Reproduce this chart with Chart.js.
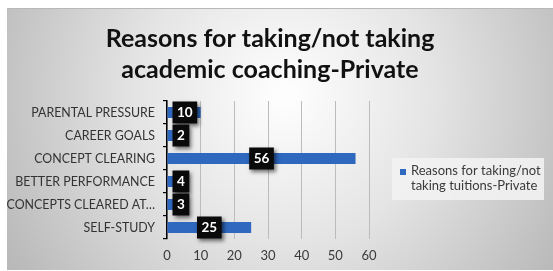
<!DOCTYPE html>
<html>
<head>
<meta charset="utf-8">
<script src="https://cdn.jsdelivr.net/npm/chart.js@4.4.1/dist/chart.umd.min.js"></script>
<style>
  html, body { margin: 0; padding: 0; background: #ffffff; }
  #wrap { position: absolute; left: 0; top: 0; width: 553px; height: 271px; }
</style>
</head>
<body>
<div id="wrap"><canvas id="c" width="553" height="271"></canvas></div>
<script>
// ---- data ----
const categories = ['PARENTAL PRESSURE', 'CAREER GOALS', 'CONCEPT CLEARING', 'BETTER PERFORMANCE', 'CONCEPTS CLEARED AT…', 'SELF-STUDY'];
const values = [10, 2, 56, 4, 3, 25];
const xTickValues = [0, 10, 20, 30, 40, 50, 60];
const titleLines = ['Reasons for taking/not taking', 'academic coaching-Private'];
const seriesName = 'Reasons for taking/not taking tuitions-Private';
const legendLines = ['Reasons for taking/not', 'taking tuitions-Private'];

const FONT = 'Lato, "Open Sans", sans-serif';
const BAR_COLOR = '#2e68bf';

const backgroundPlugin = {
  id: 'bgPanel',
  beforeDraw(chart) {
    const ctx = chart.ctx;
    ctx.save();
    const x0 = 7, y0 = 8, w = 546, h = 262;
    const g = ctx.createRadialGradient(285, 95, 10, 285, 95, 320);
    g.addColorStop(0, '#fdfdfd');
    g.addColorStop(0.45, '#e4e4e4');
    g.addColorStop(1, '#b9b9b9');
    ctx.fillStyle = g;
    ctx.fillRect(x0, y0, w, h);
    ctx.strokeStyle = '#b8b8b8';
    ctx.lineWidth = 1;
    ctx.beginPath();
    ctx.moveTo(x0, y0 + 0.5); ctx.lineTo(x0 + w, y0 + 0.5);
    ctx.stroke();
    ctx.restore();
  }
};

const titleLegendPlugin = {
  id: 'titleLegend',
  afterDraw(chart) {
    const ctx = chart.ctx;
    ctx.save();
    // title
    ctx.fillStyle = '#111111';
    ctx.font = 'bold 25px ' + FONT;
    ctx.textAlign = 'center';
    ctx.textBaseline = 'middle';
    ctx.fillText(titleLines[0], 270, 39);
    ctx.fillText(titleLines[1], 270, 70);
    // legend
    ctx.fillStyle = 'rgba(242,242,242,0.9)';
    ctx.fillRect(392, 158, 152, 42);
    ctx.fillStyle = chart.data.datasets[0].backgroundColor;
    ctx.fillRect(400, 169, 6, 6);
    ctx.fillStyle = '#3a3a3a';
    ctx.font = '13px ' + FONT;
    ctx.textAlign = 'left';
    ctx.textBaseline = 'alphabetic';
    ctx.fillText(legendLines[0], 411, 175);
    ctx.fillText(legendLines[1], 411, 190);
    ctx.restore();
  }
};

const dataLabelPlugin = {
  id: 'boxLabels',
  afterDatasetsDraw(chart) {
    const ctx = chart.ctx;
    const meta = chart.getDatasetMeta(0);
    ctx.save();
    ctx.font = 'bold 13.5px ' + FONT;
    ctx.textAlign = 'center';
    ctx.textBaseline = 'middle';
    meta.data.forEach((bar, i) => {
      const txt = String(chart.data.datasets[0].data[i]);
      const tw = ctx.measureText(txt).width;
      const bw = tw + 9, bh = 22;
      let cx = (bar.x + bar.base) / 2;
      cx = Math.max(cx, bar.base + bw / 2 + 5);
      const cy = bar.y;
      ctx.save();
      ctx.shadowColor = 'rgba(0,0,0,0.55)';
      ctx.shadowBlur = 4;
      ctx.shadowOffsetX = 2;
      ctx.shadowOffsetY = 2;
      ctx.fillStyle = '#0a0a0a';
      ctx.fillRect(cx - bw / 2, cy - bh / 2, bw, bh);
      ctx.restore();
      ctx.fillStyle = '#ffffff';
      ctx.fillText(txt, cx, cy + 0.5);
    });
    ctx.restore();
  }
};

new Chart(document.getElementById('c'), {
  type: 'bar',
  data: {
    labels: categories,
    datasets: [{
      label: seriesName,
      data: values,
      backgroundColor: BAR_COLOR,
      borderWidth: 0,
      categoryPercentage: 1.0,
      barPercentage: 0.48
    }]
  },
  options: {
    indexAxis: 'y',
    responsive: false,
    animation: false,
    devicePixelRatio: 1,
    layout: { padding: { left: 0, right: 184, top: 101, bottom: 0 } },
    scales: {
      x: {
        min: 0, max: 60,
        afterFit(s) { s.height = 32; },
        afterBuildTicks(s) { s.ticks = xTickValues.map(v => ({ value: v })); },
        grid: { color: '#bcbcbc', lineWidth: 1, drawTicks: false },
        border: { display: false },
        ticks: { color: '#3a3a3a', font: { family: FONT, size: 13 }, padding: 9 }
      },
      y: {
        afterFit(s) { s.width = 167; },
        grid: { drawOnChartArea: false, drawTicks: true, tickLength: 4, color: '#000000', lineWidth: 1.2 },
        border: { display: true, color: '#000000', width: 1.5 },
        ticks: { color: '#333333', font: { family: FONT, size: 12.4 }, padding: 8 }
      }
    },
    plugins: {
      legend: { display: false },
      title: { display: false },
      tooltip: { enabled: false }
    }
  },
  plugins: [backgroundPlugin, dataLabelPlugin, titleLegendPlugin]
});
</script>
</body>
</html>
